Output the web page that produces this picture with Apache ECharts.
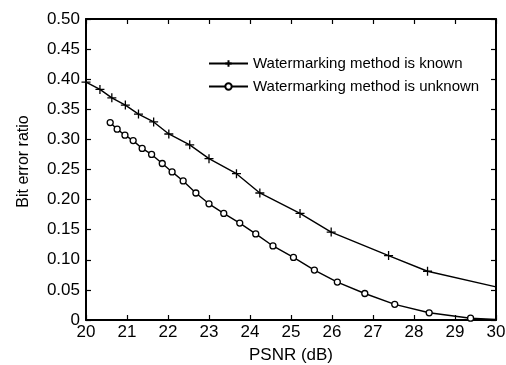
<!DOCTYPE html>
<html>
<head>
<meta charset="utf-8">
<script src="https://cdn.jsdelivr.net/npm/echarts@6/dist/echarts.min.js"></script>
<style>
  html, body { margin: 0; padding: 0; background: #fff; }
  #chart { width: 506px; height: 365px; }
</style>
</head>
<body>
<div id="chart"></div>
<script>
// PSNR (dB) vs bit error ratio
var knownX = [20.0, 20.34, 20.63, 20.96, 21.28, 21.65, 22.02, 22.53, 23.0, 23.67, 24.24, 25.22, 25.98, 27.38, 28.33, 30.0];
var knownY = [0.395, 0.383, 0.369, 0.357, 0.342, 0.329, 0.309, 0.291, 0.268, 0.243, 0.211, 0.177, 0.146, 0.107, 0.081, 0.055];
var unknownX = [20.59, 20.76, 20.95, 21.15, 21.37, 21.60, 21.86, 22.10, 22.37, 22.68, 23.0, 23.36, 23.75, 24.14, 24.56, 25.06, 25.57, 26.13, 26.80, 27.53, 28.37, 29.38, 30.0];
var unknownY = [0.328, 0.317, 0.307, 0.298, 0.285, 0.275, 0.260, 0.246, 0.231, 0.211, 0.193, 0.177, 0.161, 0.143, 0.123, 0.104, 0.083, 0.063, 0.044, 0.026, 0.012, 0.003, 0.001];
var seriesNames = ['Watermarking method is known', 'Watermarking method is unknown'];

var plusPath = 'path://M5,0L5,10M0,5L10,5';

function pairs(xs, ys, lastNoMark) {
  return xs.map(function (x, i) {
    var p = { value: [x, ys[i]] };
    if (lastNoMark && i === xs.length - 1) p.symbol = 'none';
    return p;
  });
}

var myChart = echarts.init(document.getElementById('chart'));
var font = 'Arial, "Liberation Sans", sans-serif';
var axisLine = { show: true, onZero: false, lineStyle: { color: '#000', width: 2 } };
var tick = { show: true, inside: true, length: 5, lineStyle: { color: '#000', width: 1.2 } };

var option = {
  animation: false,
  textStyle: { fontFamily: font },
  grid: { left: 86, right: 10, top: 19, bottom: 45, containLabel: false, outerBoundsMode: 'none' },
  legend: {
    left: 203,
    top: 51,
    orient: 'vertical',
    itemWidth: 39,
    itemHeight: 8,
    itemGap: 8,
    textStyle: { fontSize: 15, color: '#000', fontFamily: font },
    data: seriesNames
  },
  xAxis: [{
    type: 'value', min: 20, max: 30, interval: 1,
    name: 'PSNR (dB)', nameLocation: 'middle', nameGap: 27,
    nameTextStyle: { fontSize: 17, color: '#000' },
    axisLine: axisLine, axisTick: tick,
    axisLabel: { fontSize: 17, color: '#000', margin: 4 },
    splitLine: { show: false }
  }, {
    type: 'value', min: 20, max: 30, interval: 1, position: 'top',
    axisLine: axisLine, axisTick: tick, axisLabel: { show: false }, splitLine: { show: false }
  }],
  yAxis: [{
    type: 'value', min: 0, max: 0.5, interval: 0.05,
    name: 'Bit error ratio', nameLocation: 'middle', nameGap: 54,
    nameTextStyle: { fontSize: 16, color: '#000', padding: [0, 0, 0, 16] },
    axisLine: axisLine, axisTick: tick,
    axisLabel: {
      fontSize: 17, color: '#000', margin: 6,
      formatter: function (v) { return v === 0 ? '0' : v.toFixed(2); }
    },
    splitLine: { show: false }
  }, {
    type: 'value', min: 0, max: 0.5, interval: 0.05, position: 'right',
    axisLine: axisLine, axisTick: tick, axisLabel: { show: false }, splitLine: { show: false }
  }],
  series: [{
    name: seriesNames[0],
    type: 'line',
    data: pairs(knownX, knownY, true),
    symbol: plusPath,
    symbolSize: 9,
    showAllSymbol: true,
    lineStyle: { color: '#000', width: 1.4 },
    itemStyle: { color: 'rgba(0,0,0,0)', borderColor: '#000', borderWidth: 1.3 }
  }, {
    name: seriesNames[1],
    type: 'line',
    data: pairs(unknownX, unknownY, true),
    symbol: 'circle',
    symbolSize: 6,
    showAllSymbol: true,
    lineStyle: { color: '#000', width: 1.4 },
    itemStyle: { color: '#fff', borderColor: '#000', borderWidth: 1.3 }
  }]
};
myChart.setOption(option);
</script>
</body>
</html>
